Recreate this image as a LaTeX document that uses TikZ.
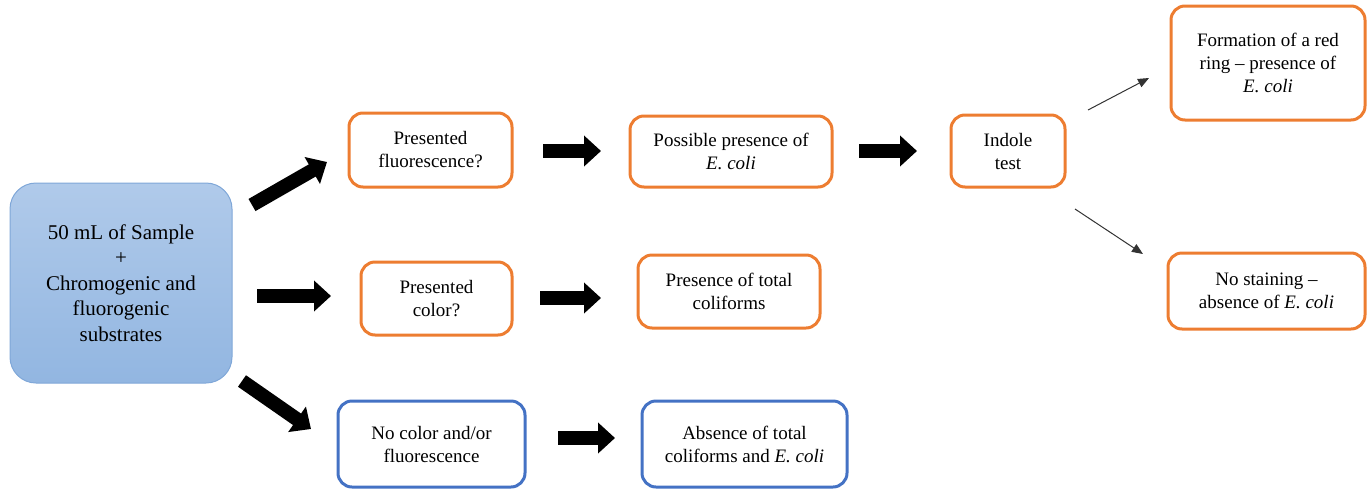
\documentclass[tikz,border=0pt]{standalone}
\usepackage{fontspec}
\setmainfont{Liberation Serif}
\usetikzlibrary{arrows.meta}
\definecolor{orng}{HTML}{ED7D31}
\definecolor{blu}{HTML}{4472C4}
\definecolor{sampletop}{HTML}{B0CAEA}
\definecolor{samplebot}{HTML}{92B6E1}
\definecolor{sampleedge}{HTML}{7FA7D8}
\tikzset{
  obox/.style={draw=orng, line width=3pt, rounded corners=14pt, align=center, inner sep=0pt,
    font=\fontsize{19}{23}\selectfont},
  bbox/.style={obox, draw=blu},
  sbox/.style={draw=sampleedge, line width=1pt, rounded corners=26pt, top color=sampletop,
    bottom color=samplebot, align=center, inner sep=0pt, font=\fontsize{21}{25.5}\selectfont},
  bigarrow/.style={line width=14pt, -{Triangle[length=17pt,width=30pt]}},
  thinarrow/.style={line width=1pt, draw=black!80, -{Triangle[length=11pt,width=9pt]}}
}
\begin{document}
\begin{tikzpicture}[x=1pt,y=-1pt]
\useasboundingbox (0,0) rectangle (1371,488);
\node[sbox, minimum width=222pt, minimum height=200pt] (sample) at (121,283)
  {50 mL of Sample\\+\\Chromogenic and\\fluorogenic\\substrates};
\node[obox, minimum width=163pt, minimum height=74pt] (fluor) at (430.5,150)
  {Presented\\fluorescence?};
\node[obox, minimum width=202pt, minimum height=71pt] (possible) at (731,151.5)
  {Possible presence of\\\textit{E. coli}};
\node[obox, minimum width=114pt, minimum height=72pt] (indole) at (1008,151)
  {Indole\\test};
\node[obox, minimum width=194pt, minimum height=114pt] (redring) at (1268,63)
  {Formation of a red\\ring -- presence of\\\textit{E. coli}};
\node[obox, minimum width=197pt, minimum height=76pt] (nostain) at (1266.5,291)
  {No staining --\\absence of \textit{E. coli}};
\node[obox, minimum width=151pt, minimum height=73pt] (color) at (436.5,298.5)
  {Presented\\color?};
\node[obox, minimum width=182pt, minimum height=73pt] (total) at (729,291.5)
  {Presence of total\\coliforms};
\node[bbox, minimum width=187pt, minimum height=86pt] (nocolor) at (431.5,444)
  {No color and/or\\fluorescence};
\node[bbox, minimum width=205pt, minimum height=86pt] (absence) at (744.5,444)
  {Absence of total\\coliforms and \textit{E. coli}};
% free ends of the connectors
\coordinate (a1s) at (252,205); \coordinate (a1e) at (327,162);
\coordinate (a2s) at (257,296); \coordinate (a2e) at (331,296);
\coordinate (a3s) at (242,381); \coordinate (a3e) at (311,429);
\coordinate (a4s) at (543,151); \coordinate (a4e) at (601,151);
\coordinate (a5s) at (540,298); \coordinate (a5e) at (601,298);
\coordinate (a6s) at (859,151); \coordinate (a6e) at (917,151);
\coordinate (a7s) at (558,438); \coordinate (a7e) at (615,438);
\coordinate (t1s) at (1088,110); \coordinate (t1e) at (1149,78);
\coordinate (t2s) at (1075,209); \coordinate (t2e) at (1143,254);
\draw[bigarrow] (a1s) -- (a1e);
\draw[bigarrow] (a2s) -- (a2e);
\draw[bigarrow] (a3s) -- (a3e);
\draw[bigarrow] (a4s) -- (a4e);
\draw[bigarrow] (a5s) -- (a5e);
\draw[bigarrow] (a6s) -- (a6e);
\draw[bigarrow] (a7s) -- (a7e);
\draw[thinarrow] (t1s) -- (t1e);
\draw[thinarrow] (t2s) -- (t2e);
\end{tikzpicture}
\end{document}
